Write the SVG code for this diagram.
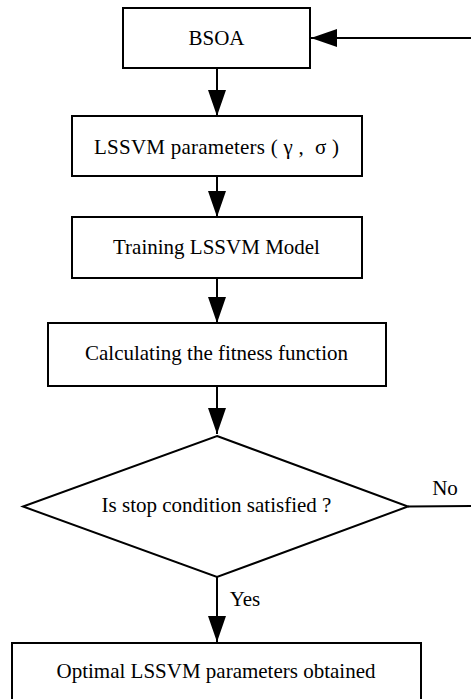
<svg xmlns="http://www.w3.org/2000/svg" width="471" height="699" viewBox="0 0 471 699">
<defs>
<marker id="ah" viewBox="0 0 26 18" refX="26" refY="9" markerWidth="26" markerHeight="18" markerUnits="userSpaceOnUse" orient="auto">
<path d="M0,0 L26,9 L0,18 Z" fill="#000"/>
</marker>
</defs>
<style>
.box{fill:#fff;stroke:#000;stroke-width:2}
.lbl{font-family:"Liberation Serif","Times New Roman",serif;font-size:21px;fill:#000;text-anchor:middle}
.edge{fill:none;stroke:#000;stroke-width:2}
</style>
<rect width="471" height="699" fill="#fff"/>
<g id="connectors">
<path class="edge" d="M471,38 L311,38" marker-end="url(#ah)"/>
<path class="edge" d="M217,68 L217,116" marker-end="url(#ah)"/>
<path class="edge" d="M217,176 L217,217" marker-end="url(#ah)"/>
<path class="edge" d="M217,278 L217,323" marker-end="url(#ah)"/>
<path class="edge" d="M217,386 L217,434" marker-end="url(#ah)"/>
<path class="edge" d="M217,577 L217,642" marker-end="url(#ah)"/>
<path class="edge" d="M408,506.5 L471,506"/>
<text class="lbl" x="245" y="606">Yes</text>
<text class="lbl" x="445" y="495">No</text>
</g>
<g id="bsoa">
<rect class="box" x="123" y="8" width="187" height="60"/>
<text class="lbl" x="216.5" y="45">BSOA</text>
</g>
<g id="params">
<rect class="box" x="72" y="116" width="290" height="60"/>
<text class="lbl" x="216.5" y="154" xml:space="preserve" textLength="245">LSSVM parameters ( γ ,  σ )</text>
</g>
<g id="training">
<rect class="box" x="72" y="217" width="290" height="61"/>
<text class="lbl" x="216.5" y="254">Training LSSVM Model</text>
</g>
<g id="fitness">
<rect class="box" x="48" y="323" width="338" height="63"/>
<text class="lbl" x="216.5" y="360">Calculating the fitness function</text>
</g>
<g id="decision">
<polygon class="box" points="217,436 408,506.5 217,577 23,506.5"/>
<text class="lbl" x="216.5" y="512">Is stop condition satisfied ?</text>
</g>
<g id="optimal">
<rect class="box" x="12" y="643" width="409" height="70"/>
<text class="lbl" x="216" y="678">Optimal LSSVM parameters obtained</text>
</g>
</svg>
